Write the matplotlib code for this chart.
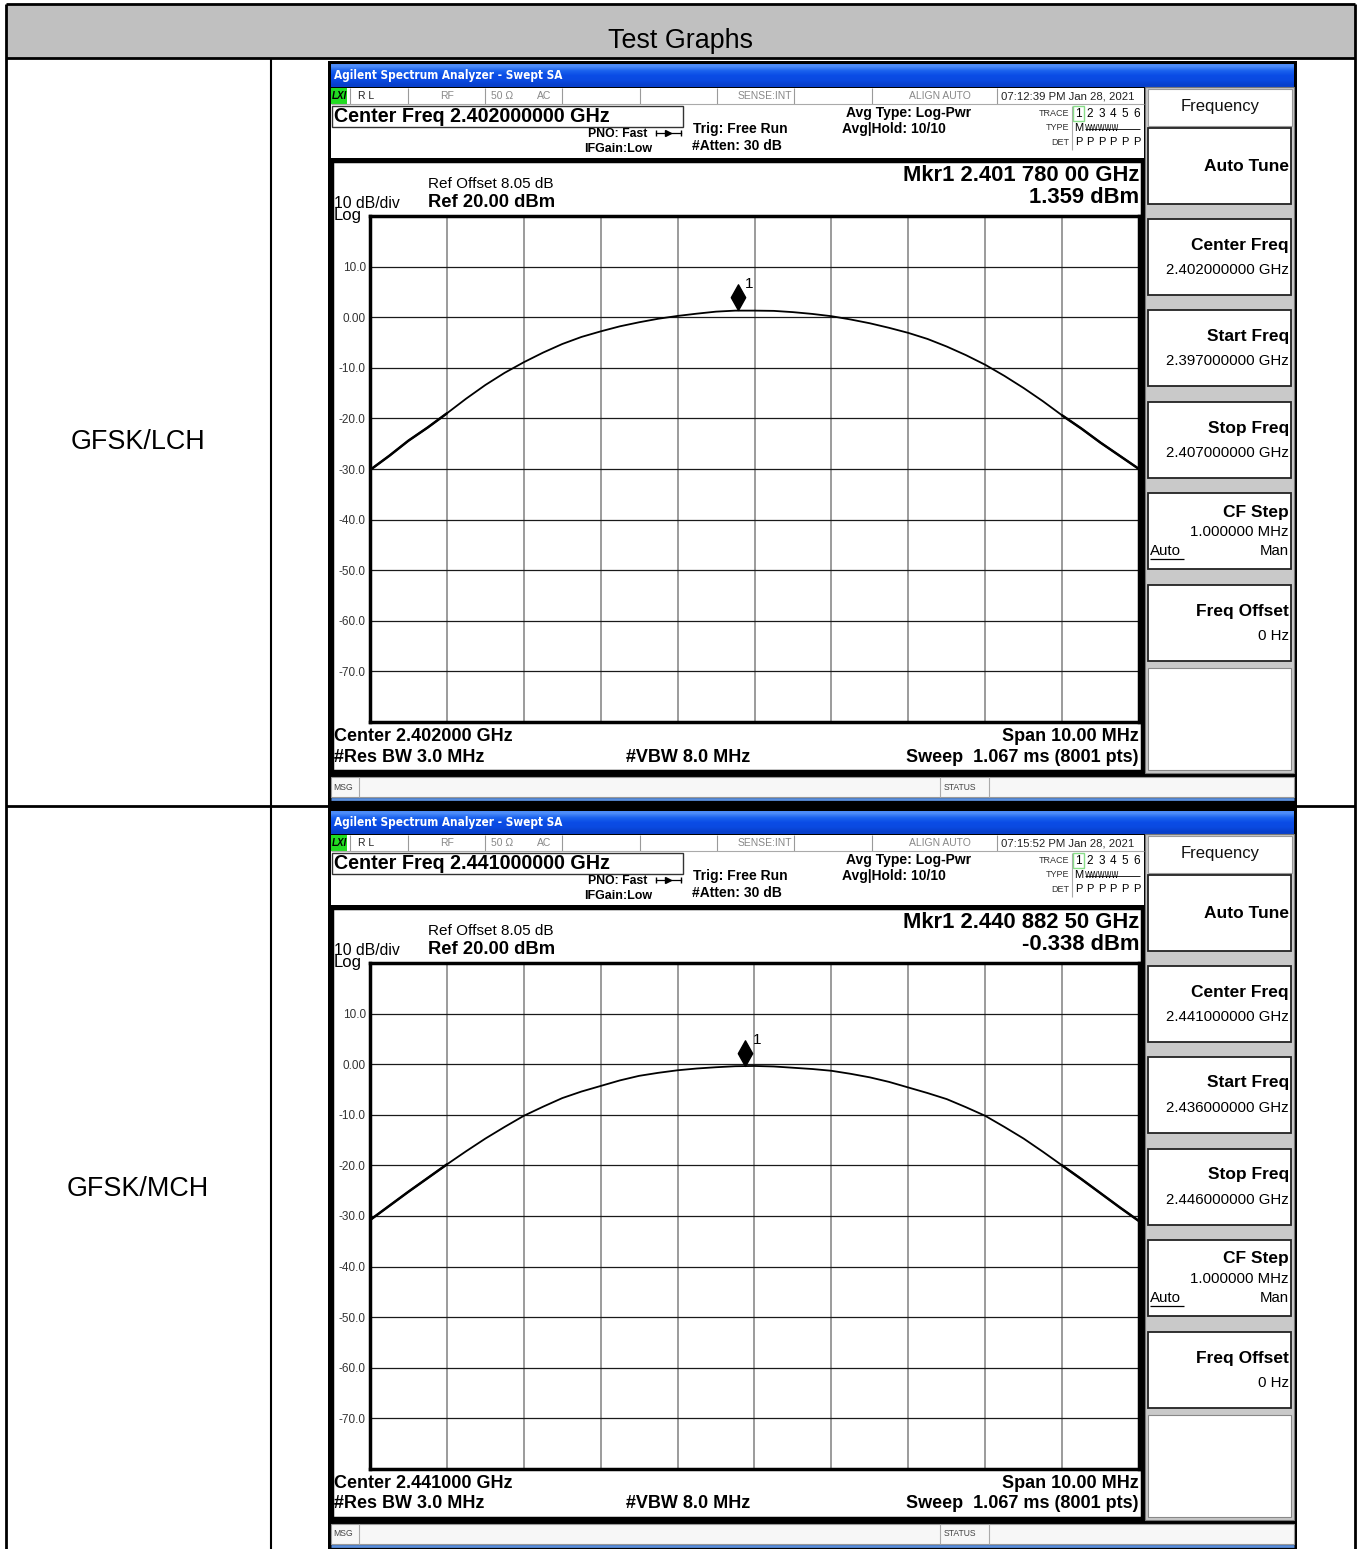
import numpy as np
import matplotlib
matplotlib.use("Agg")
import matplotlib.pyplot as plt
from matplotlib.patches import Rectangle
from matplotlib.path import Path

W, H = 1359, 1549

HEADER = "Test Graphs"
ROW_LABELS = ["GFSK/LCH", "GFSK/MCH"]
CENTER_GHZ = [2.402, 2.441]
START_GHZ = [2.397, 2.436]
STOP_GHZ = [2.407, 2.446]
CENTER_TEXT = ["2.402000000 GHz", "2.441000000 GHz"]
START_TEXT = ["2.397000000 GHz", "2.436000000 GHz"]
STOP_TEXT = ["2.407000000 GHz", "2.446000000 GHz"]
CENTER_SHORT = ["2.402000 GHz", "2.441000 GHz"]
TIMES = ["07:12:39 PM Jan 28, 2021", "07:15:52 PM Jan 28, 2021"]
MKR_TEXT = ["2.401 780 00 GHz", "2.440 882 50 GHz"]
MKR_GHZ = [2.40178, 2.4408825]
MKR_DBM = [1.359, -0.338]

# trace, offset from centre (MHz) -> level (dBm)
OFFSET_MHZ = [-5.0, -4.75, -4.5, -4.25, -4.0, -3.75, -3.5, -3.25, -3.0, -2.75,
              -2.5, -2.25, -2.0, -1.75, -1.5, -1.25, -1.0, -0.75, -0.5, -0.25,
              0.0, 0.25, 0.5, 0.75, 1.0, 1.25, 1.5, 1.75, 2.0, 2.25,
              2.5, 2.75, 3.0, 3.25, 3.5, 3.75, 4.0, 4.25, 4.5, 4.75, 5.0]
LCH_DBM = [-30.2, -27.4, -24.4, -21.8, -19.0, -16.1, -13.4, -11.0, -8.9, -7.0,
           -5.3, -3.9, -2.8, -1.8, -1.0, -0.3, 0.25, 0.7, 1.1, 1.3,
           1.3, 1.25, 1.0, 0.65, 0.2, -0.45, -1.2, -2.1, -3.1, -4.3,
           -5.8, -7.5, -9.4, -11.6, -14.0, -16.6, -19.4, -22.0, -24.8, -27.4, -30.0]
MCH_DBM = [-30.8, -28.0, -25.2, -22.5, -19.8, -17.2, -14.7, -12.4, -10.2, -8.4,
           -6.7, -5.4, -4.3, -3.2, -2.3, -1.7, -1.2, -0.85, -0.6, -0.4,
           -0.35, -0.45, -0.7, -0.95, -1.3, -1.9, -2.6, -3.5, -4.6, -5.7,
           -6.9, -8.5, -10.2, -12.4, -14.7, -17.3, -20.0, -22.7, -25.5, -28.3, -31.0]
TRACES = [LCH_DBM, MCH_DBM]

REF_DBM = 20
Y_TICKS = [10, 0, -10, -20, -30, -40, -50, -60, -70]
Y_LABELS = ["10.0", "0.00", "-10.0", "-20.0", "-30.0", "-40.0", "-50.0", "-60.0", "-70.0"]

plt.rcParams['font.family'] = ['Liberation Sans', 'DejaVu Sans']

fig = plt.figure(figsize=(W / 100, H / 100), dpi=100)
bg = fig.add_axes([0, 0, 1, 1])
bg.axis('off')


def box(x0, y0, x1, y1, fc='white', ec='none', lw=0, z=1):
    bg.add_patch(Rectangle((x0, y0), x1 - x0, y1 - y0, facecolor=fc,
                           edgecolor=ec, linewidth=lw, zorder=z))


def hline(y, x0, x1, color='black', lw=1.0, z=3):
    bg.plot([x0, x1], [y, y], color=color, lw=lw, zorder=z, solid_capstyle='butt')


def vline(x, y0, y1, color='black', lw=1.0, z=3):
    bg.plot([x, x], [y0, y1], color=color, lw=lw, zorder=z, solid_capstyle='butt')


def txt(x, y, s, size, weight='normal', color='black', ha='left', z=5, **kw):
    bg.text(x, y, s, fontsize=size, fontweight=weight, color=color, ha=ha,
            va='center', zorder=z, **kw)


# ---- table ----
box(6, 4, 1355, 58, fc='#c0c0c0')
txt(680, 41, HEADER, 19.4, ha='center')
hline(4, 6, 1355, lw=2)
hline(58, 6, 1355, lw=2)
hline(806, 6, 1355, lw=2)
vline(6, 4, H, lw=2)
vline(1355, 4, H, lw=2)
vline(271, 58, H, lw=1.5)
txt(138, 442, ROW_LABELS[0], 19.4, ha='center')
txt(138, 1189, ROW_LABELS[1], 19.4, ha='center')

diamond = Path([(0, 0), (0.56, 1), (0, 2), (-0.56, 1), (0, 0)],
               [Path.MOVETO, Path.LINETO, Path.LINETO, Path.LINETO, Path.CLOSEPOLY])


def draw_analyzer(k, dy):
    def Y(y):
        return y + dy

    box(328, Y(61), 1297, Y(809), fc='black', z=2)
    # title bar
    grad = np.array([[0.30, 0.55, 0.98], [0.10, 0.38, 0.93], [0.04, 0.30, 0.90],
                     [0.04, 0.29, 0.88], [0.03, 0.25, 0.80]])[:, None, :]
    bg.imshow(grad, extent=(331, 1294, Y(87), Y(64)), aspect='auto',
              interpolation='bilinear', zorder=3)
    txt(334, Y(75.5), "Agilent Spectrum Analyzer - Swept SA", 8.5, 'bold', 'white',
        family=['DejaVu Sans'], stretch='condensed')

    # status row
    box(331, Y(88), 1144, Y(103.5), fc='white', z=3)
    box(331, Y(88), 347, Y(103.5), fc='#22dd22', z=4)
    txt(332, Y(96), "LXI", 7, 'bold', style='italic')
    for x in [350, 408, 485, 562, 640, 717, 794, 872, 997]:
        vline(x, Y(88), Y(103.5), color='#9a9a9a', lw=0.8, z=4)
    txt(358, Y(96), "R L", 7.5, color='#222')
    txt(440, Y(96), "RF", 7.5, color='#888')
    txt(491, Y(96), "50 Ω", 7.5, color='#888')
    txt(537, Y(96), "AC", 7.5, color='#888')
    txt(792, Y(96), "SENSE:INT", 7.5, color='#888', ha='right')
    txt(971, Y(96), "ALIGN AUTO", 7.5, color='#888', ha='right')
    txt(1001, Y(96), TIMES[k], 8.2, color='#222')

    # settings area
    box(331, Y(104), 1144, Y(158), fc='white', z=3)
    hline(Y(104), 331, 1144, color='#aaaaaa', lw=0.8, z=4)
    box(332, Y(106), 683, Y(127), fc='white', ec='#333', lw=1.0, z=4)
    txt(334, Y(116.5), "Center Freq " + CENTER_TEXT[k], 14.2, 'bold')
    txt(647, Y(134), "PNO: Fast", 8.8, 'bold', ha='right')
    txt(584, Y(149), "IFGain:Low", 9, 'bold')
    bg.plot([656, 681], [Y(133), Y(133)], color='black', lw=0.9, zorder=5)
    bg.plot([668], [Y(133)], marker='>', ms=5, color='black', zorder=5)
    bg.plot([656, 681], [Y(133), Y(133)], ls='none', marker='|', ms=4, color='black', zorder=5)
    txt(693, Y(129), "Trig: Free Run", 10, 'bold')
    txt(692, Y(146), "#Atten: 30 dB", 10, 'bold')
    txt(846, Y(113), "Avg Type: Log-Pwr", 10, 'bold')
    txt(842, Y(129), "Avg|Hold: 10/10", 10, 'bold')
    txt(1069, Y(113), "TRACE", 6.5, color='#333', ha='right')
    txt(1069, Y(127.5), "TYPE", 6.5, color='#333', ha='right')
    txt(1069, Y(142), "DET", 6.5, color='#333', ha='right')
    vline(1072, Y(106), Y(150), color='#aaaaaa', lw=0.8, z=4)
    box(1073, Y(106), 1084, Y(121), fc='white', ec='#88dd88', lw=1.0, z=4)
    for i in range(6):
        txt(1078.5 + i * 11.6, Y(114), str(i + 1), 8.5, ha='center')
        txt(1078.5 + i * 11.6, Y(142), "P", 8, ha='center')
    txt(1078.5, Y(128), "M", 8, ha='center')
    txt(1085, Y(128.5), "WWWWW", 5.6, family=['DejaVu Sans'], stretch='condensed')
    hline(Y(128.5), 1085, 1140, color='black', lw=0.6, z=6)

    # display area
    box(332, Y(161), 1142, Y(771), fc='white', ec='black', lw=2.5, z=3)
    txt(428, Y(184), "Ref Offset 8.05 dB", 11)
    txt(428, Y(202), "Ref 20.00 dBm", 13.2, 'bold')
    txt(334, Y(203), "10 dB/div", 11.3)
    txt(334, Y(215), "Log", 12, 'medium')
    txt(1139, Y(175), "Mkr1 " + MKR_TEXT[k], 15.8, 'bold', ha='right')
    txt(1139, Y(197), "%.3f dBm" % MKR_DBM[k], 15.8, 'bold', ha='right')
    txt(334, Y(736), "Center " + CENTER_SHORT[k], 13, 'bold')
    txt(1139, Y(736), "Span 10.00 MHz", 13, 'bold', ha='right')
    txt(334, Y(757), "#Res BW 3.0 MHz", 13, 'bold')
    txt(626, Y(757), "#VBW 8.0 MHz", 13, 'bold')
    txt(1139, Y(757), "Sweep  1.067 ms (8001 pts)", 13, 'bold', ha='right')

    # message bar
    box(331, Y(777), 1294, Y(797), fc='#f7f7f7', ec='#999999', lw=0.8, z=3)
    for x in [359, 940, 989]:
        vline(x, Y(777), Y(797), color='#aaaaaa', lw=0.8, z=4)
    txt(333, Y(787), "MSG", 6.2, color='#444')
    txt(944, Y(787), "STATUS", 6.2, color='#444')
    hline(Y(798.5), 331, 1294, color='#5b8fdc', lw=2, z=4)

    # softkey panel
    box(1145, Y(87), 1294, Y(773), fc='#c9c9c9', ec='#777', lw=0.8, z=3)
    box(1148, Y(89), 1292, Y(126), fc='white', ec='#999', lw=0.8, z=4)
    txt(1220, Y(106), "Frequency", 12, ha='center', color='#111')
    tops = [128, 219, 310, 402, 493, 585]
    for t in tops:
        box(1148, Y(t), 1291, Y(t + 76), fc='white', ec='#222', lw=1.3, z=4)
    box(1148, Y(668), 1291, Y(770), fc='white', ec='#888', lw=0.8, z=4)
    txt(1289, Y(166), "Auto Tune", 12.5, 'bold', ha='right')
    for t, lab, val in [(219, "Center Freq", CENTER_TEXT[k]),
                        (310, "Start Freq", START_TEXT[k]),
                        (402, "Stop Freq", STOP_TEXT[k]),
                        (585, "Freq Offset", "0 Hz")]:
        txt(1289, Y(t + 26), lab, 12.5, 'bold', ha='right')
        txt(1289, Y(t + 51), val, 10.8, ha='right')
    txt(1289, Y(512), "CF Step", 12.5, 'bold', ha='right')
    txt(1289, Y(532), "1.000000 MHz", 10.8, ha='right')
    txt(1150, Y(551), "Auto", 10.8)
    hline(Y(559), 1150, 1184, color='black', lw=0.9, z=6)
    txt(1289, Y(551), "Man", 10.8, ha='right')

    # graticule + trace
    x0, x1, y0, y1 = 370, 1139, 216, 722
    ax = fig.add_axes([x0 / W, 1 - Y(y1) / H, (x1 - x0) / W, (y1 - y0) / H])
    ax.set_xlim(START_GHZ[k], STOP_GHZ[k])
    ax.set_ylim(REF_DBM - 100, REF_DBM)
    step = (STOP_GHZ[k] - START_GHZ[k]) / 10
    for i in range(1, 10):
        ax.axvline(START_GHZ[k] + i * step, color='#808080', lw=1.1, zorder=1)
    for yv in range(REF_DBM - 90, REF_DBM, 10):
        ax.axhline(yv, color='#1a1a1a', lw=0.9, zorder=1)
    freqs = np.array([CENTER_GHZ[k] + o / 1000 for o in OFFSET_MHZ])
    levels = np.array(TRACES[k])
    ax.plot(freqs, levels, color='black', lw=1.3, zorder=3, solid_joinstyle='round')
    # skirts look a little fuzzier on the screen (noise)
    offs = np.array(OFFSET_MHZ)
    for side in [offs <= -4.0, offs >= 4.0]:
        ax.plot(freqs[side], levels[side], color='black', lw=1.8, zorder=3,
                solid_joinstyle='round', solid_capstyle='round')
    ax.plot([MKR_GHZ[k]], [MKR_DBM[k]], marker=diamond, ms=37, color='black',
            ls='none', zorder=4)
    ax.annotate("1", (MKR_GHZ[k], MKR_DBM[k]), xytext=(8.5, 19),
                textcoords='offset points', fontsize=11, ha='center', va='center')
    ax.set_xticks([])
    ax.set_yticks(Y_TICKS, labels=Y_LABELS)
    ax.tick_params(axis='y', length=0, pad=3, labelsize=8.5, labelcolor='#333')
    for s in ax.spines.values():
        s.set_linewidth(2.5)


draw_analyzer(0, 0)
draw_analyzer(1, 747)

bg.set_xlim(0, W)
bg.set_ylim(H, 0)

fig.savefig("out.png", dpi=100)
